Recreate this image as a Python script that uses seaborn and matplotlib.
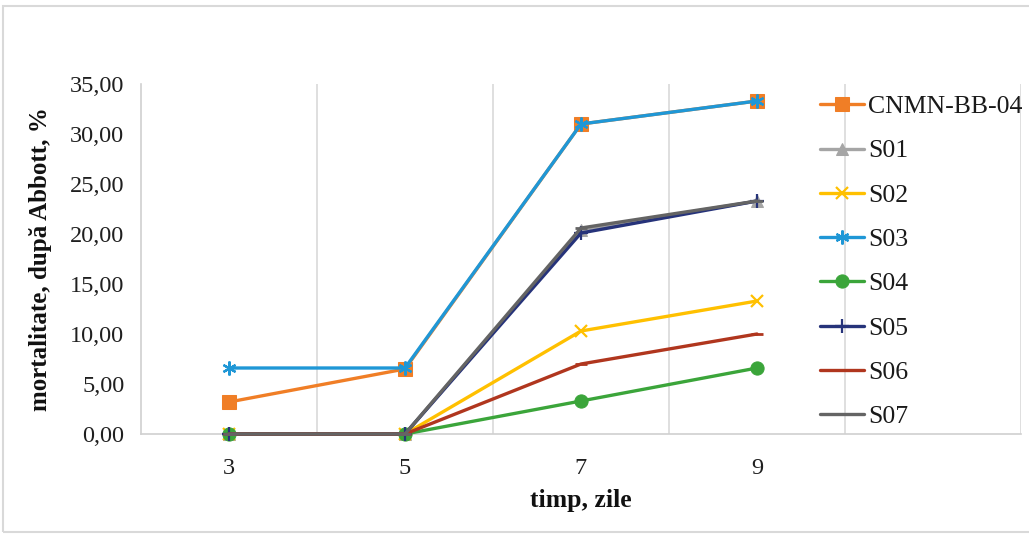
import matplotlib
matplotlib.use("Agg")
import matplotlib.pyplot as plt
from matplotlib.patches import Rectangle
from matplotlib.ticker import FuncFormatter
import seaborn as sns

sns.set_theme(style="white")
plt.rcParams["font.family"] = ["Liberation Serif", "DejaVu Serif"]

# Observation days
days = [3, 5, 7, 9]

# Abbott-corrected mortality, %
cnmn_bb_04 = [3.2, 6.5, 31.0, 33.3]
s01 = [0.0, 0.0, 20.4, 23.3]
s02 = [0.0, 0.0, 10.3, 13.3]
s03 = [6.6, 6.6, 31.0, 33.3]
s04 = [0.0, 0.0, 3.3, 6.6]
s05 = [0.0, 0.0, 20.1, 23.3]
s06 = [0.0, 0.0, 7.0, 10.0]
s07 = [0.0, 0.0, 20.6, 23.3]

labels = ["CNMN-BB-04", "S01", "S02", "S03", "S04", "S05", "S06", "S07"]
series = [cnmn_bb_04, s01, s02, s03, s04, s05, s06, s07]

y_ticks = [0, 5, 10, 15, 20, 25, 30, 35]

styles = [
    dict(color="#F07E26", marker="s", markersize=9.5),
    dict(color="#A5A5A5", marker="^", markersize=8),
    dict(color="#FFC000", marker="x", markersize=9, markeredgewidth=1.6),
    dict(color="#1F97D6", marker=(6, 2, 0), markersize=10, markeredgewidth=1.6),
    dict(color="#3BA53A", marker="o", markersize=9.5),
    dict(color="#26337A", marker="+", markersize=10, markeredgewidth=1.6),
    dict(color="#B0361E", marker="_", markersize=9, markeredgewidth=2),
    dict(color="#646464", marker="_", markersize=9, markeredgewidth=2),
]

fig = plt.figure(figsize=(10.29, 5.36), dpi=100)
ax = fig.add_axes([141 / 1029, 1 - 434 / 536, 880 / 1029, 350 / 536])

for name, vals, st in zip(labels, series, styles):
    sns.lineplot(x=days, y=vals, ax=ax, label=name, linewidth=2.4,
                 markeredgecolor=st["color"], clip_on=False, **st)

ax.set_xlim(2, 12)
ax.set_ylim(0, 35)
ax.set_xticks(days)
ax.set_yticks(y_ticks)
ax.yaxis.set_major_formatter(FuncFormatter(lambda v, p: f"{v:.2f}".replace(".", ",")))

for gx in [4, 6, 8, 10, 12]:
    ax.axvline(gx, color="#D9D9D9", linewidth=1.2, zorder=0)

for side in ["top", "right"]:
    ax.spines[side].set_visible(False)
for side in ["left", "bottom"]:
    ax.spines[side].set_color("#D0D0D0")
    ax.spines[side].set_linewidth(1.2)
    ax.spines[side].set_zorder(0.5)

ax.tick_params(axis="y", length=0, pad=12, labelsize=17.5, labelcolor="#1F1F1F")
ax.tick_params(axis="x", length=0, pad=17, labelsize=17.5, labelcolor="#1F1F1F")

ax.set_xlabel("timp, zile", fontsize=18.5, fontweight="bold", color="#111111", labelpad=7.5)
ax.set_ylabel("mortalitate, după Abbott, %", fontsize=18, fontweight="bold",
              color="#111111", labelpad=13)

leg = ax.legend(loc="upper left", bbox_to_anchor=(0.772, 0.968), frameon=False,
                fontsize=18.5, handlelength=1.7, labelspacing=0.83,
                handletextpad=0.15, borderaxespad=0, borderpad=0)
for t in leg.get_texts():
    t.set_color("#1A1A1A")

# light frame around the chart
fig.patches.append(Rectangle((3 / 1029, 4 / 536), 1.1, 1 - 10 / 536,
                             transform=fig.transFigure, fill=False,
                             edgecolor="#D9D9D9", linewidth=1.5))

fig.savefig("out.png", dpi=100)
